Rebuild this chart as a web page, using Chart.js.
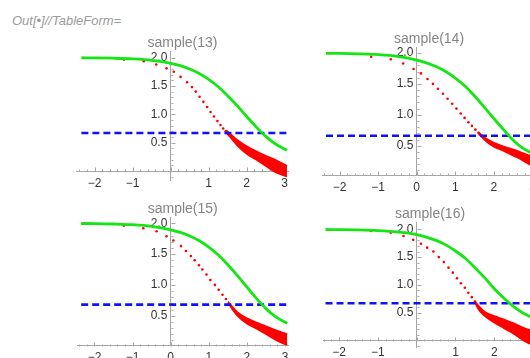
<!DOCTYPE html>
<html>
<head>
<meta charset="utf-8">
<script src="https://cdn.jsdelivr.net/npm/chart.js@4/dist/chart.umd.min.js"></script>
<style>
  body { margin: 0; background: #fff; overflow: hidden; width: 530px; height: 358px; position: relative; }
  .out { position: absolute; left: 12px; top: 13px; font: italic 13px 'Liberation Sans', sans-serif; color: #9a9a9a; }
  canvas { position: absolute; }
</style>
</head>
<body>
<div class="out">Out[•]//TableForm=</div>
<canvas id="c13"></canvas>
<canvas id="c14"></canvas>
<canvas id="c15"></canvas>
<canvas id="c16"></canvas>
<script>
// tick values
const xTicks = [-2, -1, 0, 1, 2, 3];
const xMinor = [-2.4, -2.2, -1.8, -1.6, -1.4, -1.2, -0.8, -0.6, -0.4, -0.2, 0.2, 0.4, 0.6, 0.8, 1.2, 1.4, 1.6, 1.8, 2.2, 2.4, 2.6, 2.8];
const yTicks = [0.5, 1.0, 1.5, 2.0];
const yMinor = [-0.1, 0.1, 0.2, 0.3, 0.4, 0.6, 0.7, 0.8, 0.9, 1.1, 1.2, 1.3, 1.4, 1.6, 1.7, 1.8, 1.9];

const titles = ['sample(13)', 'sample(14)', 'sample(15)', 'sample(16)'];

// green curve (same x grid in all four)
const greenX = [-2.35, -2, -1.5, -1, -0.5, 0, 0.25, 0.5, 0.75, 1, 1.25, 1.5, 1.75, 2, 2.25, 2.5, 2.75, 3.06];
const green13 = [1.997, 1.995, 1.989, 1.977, 1.952, 1.900, 1.857, 1.799, 1.720, 1.615, 1.485, 1.327, 1.150, 0.962, 0.777, 0.610, 0.480, 0.365];
const green14 = [1.995, 1.993, 1.986, 1.973, 1.945, 1.885, 1.840, 1.780, 1.700, 1.595, 1.465, 1.305, 1.125, 0.940, 0.760, 0.590, 0.460, 0.350];
const green15 = [1.997, 1.995, 1.989, 1.977, 1.950, 1.895, 1.852, 1.795, 1.717, 1.613, 1.484, 1.328, 1.152, 0.966, 0.782, 0.615, 0.485, 0.375];
const green16 = [1.996, 1.994, 1.988, 1.976, 1.952, 1.905, 1.860, 1.800, 1.720, 1.610, 1.480, 1.310, 1.130, 0.930, 0.760, 0.610, 0.490, 0.385];

// blue dashed level
const level = [0.67, 0.66, 0.68, 0.67];

// red sparse dots
const dotsX13 = [-1.23, -0.71, -0.38, -0.11, 0.08, 0.26, 0.43, 0.56, 0.66, 0.76, 0.86, 0.96, 1.05, 1.14, 1.23, 1.31, 1.38, 1.45];
const dotsY13 = [1.965, 1.935, 1.877, 1.81, 1.75, 1.66, 1.565, 1.48, 1.40, 1.31, 1.22, 1.13, 1.04, 0.96, 0.88, 0.81, 0.75, 0.70];
const dotsX14 = [-1.18, -0.67, -0.35, -0.08, 0.11, 0.28, 0.42, 0.55, 0.68, 0.80, 0.92, 1.03, 1.14, 1.24, 1.34, 1.43, 1.52, 1.60];
const dotsY14 = [1.94, 1.90, 1.83, 1.74, 1.67, 1.58, 1.50, 1.42, 1.34, 1.26, 1.18, 1.10, 1.02, 0.95, 0.88, 0.82, 0.76, 0.71];
const dotsX15 = [-1.23, -0.72, -0.37, -0.11, 0.07, 0.27, 0.40, 0.53, 0.63, 0.74, 0.83, 0.94, 1.04, 1.16, 1.26, 1.36, 1.45];
const dotsY15 = [1.96, 1.92, 1.87, 1.79, 1.72, 1.63, 1.55, 1.47, 1.40, 1.32, 1.25, 1.17, 1.08, 1.00, 0.92, 0.84, 0.77];
const dotsX16 = [-1.18, -0.67, -0.34, -0.09, 0.11, 0.27, 0.43, 0.57, 0.70, 0.82, 0.93, 1.04, 1.14, 1.24, 1.33, 1.42, 1.50];
const dotsY16 = [1.97, 1.94, 1.88, 1.81, 1.74, 1.67, 1.60, 1.50, 1.41, 1.31, 1.22, 1.12, 1.03, 0.95, 0.86, 0.78, 0.70];

// red dense band (upper / lower edge)
const bandX13 = [1.45, 1.6, 1.75, 2.0, 2.25, 2.5, 2.75, 3.06];
const bandHi13 = [0.72, 0.64, 0.55, 0.44, 0.35, 0.27, 0.20, 0.09];
const bandLo13 = [0.68, 0.57, 0.45, 0.30, 0.20, 0.09, -0.02, -0.10];
const bandX14 = [1.6, 1.8, 2.0, 2.2, 2.4, 2.6, 2.8, 3.06];
const bandHi14 = [0.72, 0.62, 0.55, 0.50, 0.46, 0.42, 0.37, 0.31];
const bandLo14 = [0.69, 0.57, 0.48, 0.43, 0.37, 0.31, 0.24, 0.15];
const bandX15 = [1.5, 1.6, 1.75, 2.0, 2.25, 2.5, 2.75, 3.06];
const bandHi15 = [0.73, 0.66, 0.56, 0.46, 0.39, 0.33, 0.27, 0.20];
const bandLo15 = [0.71, 0.62, 0.50, 0.37, 0.29, 0.20, 0.11, 0.02];
const bandX16 = [1.5, 1.6, 1.75, 2.0, 2.25, 2.5, 2.75, 3.06];
const bandHi16 = [0.71, 0.62, 0.52, 0.44, 0.38, 0.31, 0.23, 0.16];
const bandLo16 = [0.68, 0.55, 0.44, 0.32, 0.22, 0.12, 0.00, -0.11];

// where each panel sits on the page (origin pixel, px per unit, ranges)
const panels = [
  { id: 'c13', x0: 170.7, y0: 171.0, ux: 38.0, uy: 56.7, xmin: -2.47, xmax: 3.09, ymin: -0.17, ymax: 2.10, axisY: 0, zero: false },
  { id: 'c14', x0: 416.7, y0: 176.6, ux: 38.6, uy: 61.8, xmin: -2.45, xmax: 3.09, ymin: 0.025, ymax: 2.09, axisY: 0.025, zero: true },
  { id: 'c15', x0: 170.7, y0: 346.5, ux: 38.1, uy: 61.6, xmin: -2.45, xmax: 3.08, ymin: 0.015, ymax: 2.10, axisY: 0.015, zero: true },
  { id: 'c16', x0: 416.7, y0: 340.5, ux: 38.8, uy: 55.6, xmin: -2.40, xmax: 3.09, ymin: -0.13, ymax: 2.12, axisY: 0, zero: false }
];

const series = [
  [green13, dotsX13, dotsY13, bandX13, bandHi13, bandLo13],
  [green14, dotsX14, dotsY14, bandX14, bandHi14, bandLo14],
  [green15, dotsX15, dotsY15, bandX15, bandHi15, bandLo15],
  [green16, dotsX16, dotsY16, bandX16, bandHi16, bandLo16]
];

const pts = (xs, ys) => xs.map((x, i) => ({ x: x, y: ys[i] }));

// Mathematica style ticks: pointing into the plot
const tickMarks = {
  id: 'tickMarks',
  beforeDatasetsDraw(chart, args, opts) {
    const { ctx, scales: { x, y } } = chart;
    const ax = Math.round(x.getPixelForValue(0)) + 0.5;
    const ay = Math.round(y.getPixelForValue(opts.axisY)) + 0.5;
    ctx.save();
    ctx.strokeStyle = '#a6a6a6';
    ctx.lineWidth = 1;
    ctx.beginPath();
    xTicks.forEach(v => { const p = Math.round(x.getPixelForValue(v)) + 0.5; ctx.moveTo(p, ay); ctx.lineTo(p, ay - 4); });
    xMinor.forEach(v => { const p = Math.round(x.getPixelForValue(v)) + 0.5; ctx.moveTo(p, ay); ctx.lineTo(p, ay - 2); });
    yTicks.forEach(v => { const p = Math.round(y.getPixelForValue(v)) + 0.5; ctx.moveTo(ax, p); ctx.lineTo(ax + 4, p); });
    yMinor.forEach(v => {
      if (v < chart.scales.y.min) return;
      const p = Math.round(y.getPixelForValue(v)) + 0.5; ctx.moveTo(ax, p); ctx.lineTo(ax + 2, p);
    });
    ctx.stroke();
    ctx.restore();
  }
};

const titleH = 16.8;

panels.forEach((pn, k) => {
  const [green, dx, dy, bx, bhi, blo] = series[k];
  const L = pn.x0 + pn.xmin * pn.ux, R = pn.x0 + pn.xmax * pn.ux;
  const T = pn.y0 - pn.ymax * pn.uy, B = pn.y0 - pn.ymin * pn.uy;
  const left = Math.floor(L) - 25, top = Math.floor(T - titleH);
  const width = Math.ceil(R + 15) - left, height = Math.ceil(B + 25) - top;

  const cv = document.getElementById(pn.id);
  cv.width = width; cv.height = height;
  cv.style.left = left + 'px'; cv.style.top = top + 'px';
  cv.style.width = width + 'px'; cv.style.height = height + 'px';

  new Chart(cv, {
    type: 'scatter',
    data: {
      datasets: [
        { data: pts(greenX, green), showLine: true, borderColor: '#14e614', borderWidth: 2.8,
          pointRadius: 0, cubicInterpolationMode: 'monotone' },
        { data: [{ x: greenX[0], y: level[k] }, { x: greenX[greenX.length - 1], y: level[k] }], showLine: true,
          borderColor: '#1010ff', borderWidth: 2.6, borderDash: [7, 4], pointRadius: 0 },
        { data: pts(dx, dy), showLine: false, pointRadius: 1.3, pointBorderWidth: 0,
          pointBackgroundColor: '#ff0000' },
        { data: pts(bx, bhi), showLine: true, borderColor: '#ff0000', borderWidth: 1.5, pointRadius: 0,
          cubicInterpolationMode: 'monotone', fill: '+1', backgroundColor: '#ff0000' },
        { data: pts(bx, blo), showLine: true, borderColor: '#ff0000', borderWidth: 1.5, pointRadius: 0,
          cubicInterpolationMode: 'monotone' }
      ]
    },
    options: {
      responsive: false,
      animation: false,
      layout: { padding: { left: L - left, right: left + width - R, top: T - titleH - top, bottom: top + height - B } },
      plugins: {
        legend: { display: false },
        tooltip: { enabled: false },
        title: { display: true, text: titles[k], color: '#858585', padding: 0,
          font: { family: 'Liberation Sans', size: 14, weight: 'normal', lineHeight: 1.2 } },
        tickMarks: { axisY: pn.axisY }
      },
      scales: {
        x: {
          type: 'linear', min: pn.xmin, max: pn.xmax, position: { y: pn.axisY },
          grid: { display: false },
          border: { display: true, color: '#a6a6a6', width: 1 },
          afterBuildTicks: s => { s.ticks = xTicks.filter(v => pn.zero || v !== 0).map(v => ({ value: v })); },
          ticks: { color: '#333', padding: -3, maxRotation: 0, autoSkip: false,
            font: { family: 'Liberation Sans', size: 12 },
            callback: v => v < 0 ? '\u2212' + Math.abs(v) : String(v) }
        },
        y: {
          type: 'linear', min: pn.ymin, max: pn.ymax, position: { x: 0 },
          grid: { display: false },
          border: { display: true, color: '#a6a6a6', width: 1 },
          afterBuildTicks: s => { s.ticks = yTicks.map(v => ({ value: v })); },
          ticks: { color: '#333', padding: 4, autoSkip: false,
            font: { family: 'Liberation Sans', size: 12 },
            callback: v => v.toFixed(1) + ' ' }
        }
      }
    },
    plugins: [tickMarks]
  });
});
</script>
</body>
</html>
